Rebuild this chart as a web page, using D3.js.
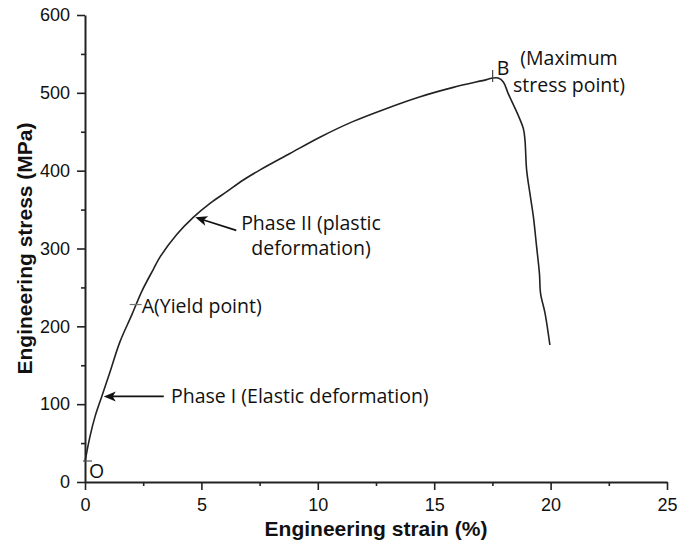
<!DOCTYPE html>
<html>
<head>
<meta charset="utf-8">
<script src="https://cdn.jsdelivr.net/npm/d3@7"></script>
<style>
  body { margin: 0; background: #fff; }
  svg { display: block; }
</style>
</head>
<body>
<div id="chart"></div>
<script>
// stress-strain curve
const strain = [0, 0.21, 0.43, 0.72, 1.07, 1.5, 2.0, 2.44, 2.93, 3.22, 3.94, 4.65, 5.37, 6.09, 6.8, 7.52, 8.8, 10.09, 11.5, 12.96, 14.4, 15.82, 17.25, 17.51, 17.75, 17.97, 18.18, 18.61, 18.83, 18.9, 18.97, 19.11, 19.26, 19.4, 19.52, 19.57, 19.76, 19.97];
const stress = [26, 58, 84, 110, 141, 180, 214, 245, 273, 289, 318, 340, 358, 373, 388, 401, 422, 443, 463, 480, 495, 507, 517, 519, 519, 514, 499, 471, 454, 439, 401, 371, 341, 302, 268, 242, 217, 176];

const xTicks = [0, 5, 10, 15, 20, 25];
const yTicks = [0, 100, 200, 300, 400, 500, 600];

// marked points: O, A (yield), B (max stress)
const pointO = [0, 27];
const pointA = [2.22, 228];
const pointB = [17.51, 519];

// arrow tips on the curve
const phase1Tip = [0.72, 110];
const phase2Tip = [4.65, 340];

const width = 678, height = 545;
const margin = { top: 15, right: 11, bottom: 63, left: 85 };

const svg = d3.select('#chart').append('svg')
  .attr('width', width)
  .attr('height', height);

const x = d3.scaleLinear()
  .domain([0, 25])
  .range([margin.left, width - margin.right]);

const y = d3.scaleLinear()
  .domain([0, 600])
  .range([height - margin.bottom, margin.top]);

const tickFont = '"Liberation Sans", Arial, sans-serif';
const noteFont = '"Open Sans", Lato, sans-serif';

// x axis
const xAxis = svg.append('g')
  .attr('transform', `translate(0,${y(0)})`)
  .call(d3.axisBottom(x).tickValues(xTicks).tickSize(8).tickSizeOuter(0).tickPadding(8));
xAxis.selectAll('text').attr('font-family', tickFont).attr('font-size', 18).attr('fill', '#111');

svg.append('g')
  .attr('transform', `translate(0,${y(0)})`)
  .call(d3.axisBottom(x).tickValues(d3.range(2.5, 25, 5)).tickSize(4).tickFormat(''))
  .call(g => g.select('.domain').remove());

// y axis
const yAxis = svg.append('g')
  .attr('transform', `translate(${x(0)},0)`)
  .call(d3.axisLeft(y).tickValues(yTicks).tickSize(8).tickSizeOuter(0).tickPadding(7));
yAxis.selectAll('text').attr('font-family', tickFont).attr('font-size', 18).attr('fill', '#111');

svg.append('g')
  .attr('transform', `translate(${x(0)},0)`)
  .call(d3.axisLeft(y).tickValues(d3.range(50, 600, 100)).tickSize(4).tickFormat(''))
  .call(g => g.select('.domain').remove());

svg.selectAll('.domain').attr('stroke', '#222').attr('stroke-width', 2);
svg.selectAll('.tick line').attr('stroke', '#222').attr('stroke-width', 1.6);

// axis titles
svg.append('text')
  .attr('x', (x(0) + x(25)) / 2)
  .attr('y', 536)
  .attr('text-anchor', 'middle')
  .attr('font-family', tickFont)
  .attr('font-size', 21)
  .attr('font-weight', 'bold')
  .attr('fill', '#111')
  .text('Engineering strain (%)');

svg.append('text')
  .attr('transform', `translate(32,${(y(0) + y(600)) / 2}) rotate(-90)`)
  .attr('text-anchor', 'middle')
  .attr('font-family', tickFont)
  .attr('font-size', 21)
  .attr('font-weight', 'bold')
  .attr('fill', '#111')
  .text('Engineering stress (MPa)');

// curve
const line = d3.line()
  .x(d => x(d[0]))
  .y(d => y(d[1]))
  .curve(d3.curveCatmullRom.alpha(0.5));

svg.append('path')
  .datum(d3.zip(strain, stress))
  .attr('fill', 'none')
  .attr('stroke', '#222')
  .attr('stroke-width', 1.6)
  .attr('d', line);

// point marks
svg.append('line')
  .attr('x1', x(pointO[0]) - 2).attr('x2', x(pointO[0]) + 7)
  .attr('y1', y(pointO[1])).attr('y2', y(pointO[1]))
  .attr('stroke', '#555').attr('stroke-width', 1.2);
svg.append('line')
  .attr('x1', x(pointA[0]) - 7).attr('x2', x(pointA[0]) + 5)
  .attr('y1', y(pointA[1])).attr('y2', y(pointA[1]))
  .attr('stroke', '#777').attr('stroke-width', 1.2);
svg.append('line')
  .attr('x1', x(pointB[0])).attr('x2', x(pointB[0]))
  .attr('y1', y(pointB[1]) - 8).attr('y2', y(pointB[1]) + 4)
  .attr('stroke', '#444').attr('stroke-width', 1.2);

// arrow: line from tail to tip plus a filled head
const arrow = (tip, dx, dy) => {
  const tx = x(tip[0]) + 2, ty = y(tip[1]);
  const len = Math.hypot(dx, dy), ux = dx / len, uy = dy / len;
  svg.append('line')
    .attr('x1', tx + ux * 8).attr('y1', ty + uy * 8)
    .attr('x2', tx + dx).attr('y2', ty + dy)
    .attr('stroke', '#111').attr('stroke-width', 1.6);
  const hl = 12, hw = 5, back = 9;
  svg.append('path')
    .attr('d', `M${tx},${ty}` +
      `L${tx + ux * hl - uy * hw},${ty + uy * hl + ux * hw}` +
      `L${tx + ux * back},${ty + uy * back}` +
      `L${tx + ux * hl + uy * hw},${ty + uy * hl - ux * hw}Z`)
    .attr('fill', '#111');
};

const note = (t, px, py, anchor) => svg.append('text')
  .attr('x', px).attr('y', py)
  .attr('text-anchor', anchor || 'start')
  .attr('font-family', noteFont)
  .attr('font-size', 19.5)
  .attr('fill', '#111')
  .text(t);

// Phase I
arrow(phase1Tip, 60, 0);
note('Phase I (Elastic deformation)', 171, 403);

// Phase II
arrow(phase2Tip, 41, 13);
note('Phase II (plastic', 311, 230, 'middle');
note('deformation)', 311, 255, 'middle');

// labels
note('O', 89, 478);
note('A(Yield point)', x(pointA[0]) + 5, 313);
note('B', x(pointB[0]) + 4, 75);
note('(Maximum', 569, 65, 'middle');
note('stress point)', 569, 92, 'middle');
</script>
</body>
</html>
